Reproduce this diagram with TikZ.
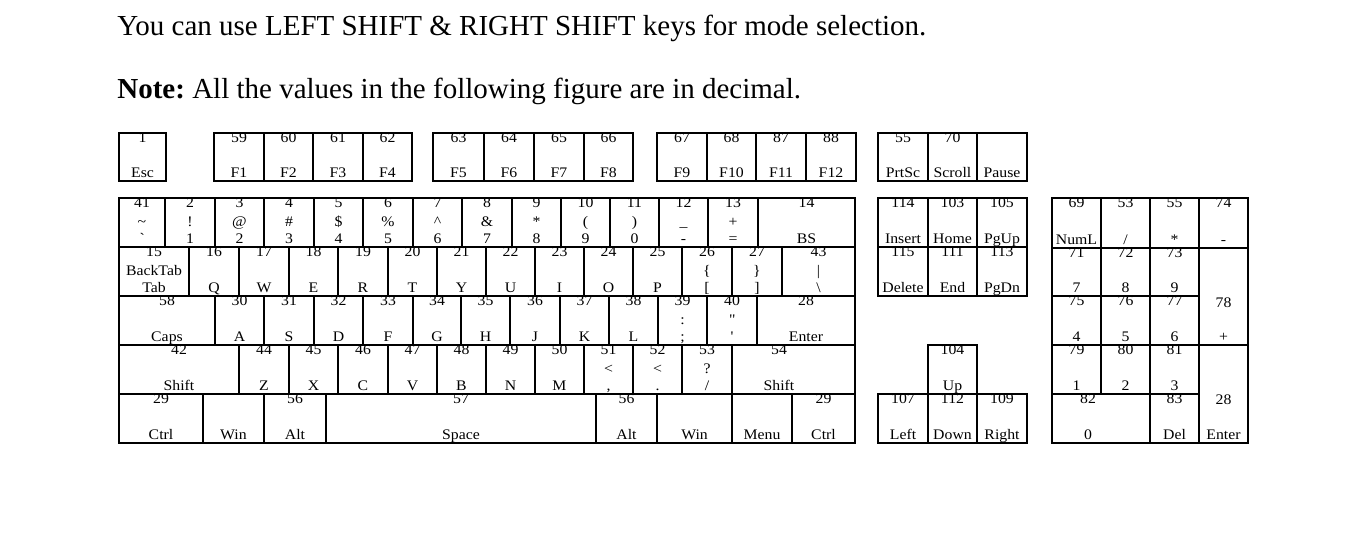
\documentclass[tikz,border=0pt]{standalone}
\usepackage{fontspec}
\setmainfont{Liberation Serif}
\newfontfamily\keyfont[FakeStretch=1.08]{Liberation Serif}
\frenchspacing

\tikzset{
  keybox/.style={draw, rectangle, inner sep=0pt, outer sep=0pt, line width=0.6pt},
  keylbl/.style={inner sep=0pt, anchor=base, font=\keyfont\fontsize{7.3}{8}\selectfont},
  notetext/.style={inner sep=0pt, anchor=base west, font=\fontsize{14.5}{17}\selectfont}
}

% name, left, top, right, bottom, code, upper char, lower label
\newcommand{\kbkey}[8]{%
  \node[keybox, minimum width={(#4-#2)*0.5pt}, minimum height={(#5-#3)*0.5pt}] (#1) at ({(#2+#4)/2},{(#3+#5)/2}) {};
  \node[keylbl] (#1n) at ({(#2+#4)/2},{#3+10}) {#6};
  \node[keylbl] (#1m) at ({(#2+#4)/2},{#3+29}) {#7};
  \node[keylbl] (#1b) at ({(#2+#4)/2},{#5-3.5}) {#8};
}

\begin{document}
\begin{tikzpicture}[x=0.5pt, y=-0.5pt]
            \useasboundingbox (0,0) rectangle (1371,539);
            \node[notetext] (lineA) at (117,36) {You can use LEFT SHIFT \& RIGHT SHIFT keys for mode selection.};
            \node[notetext] (lineB) at (117,99) {\textbf{Note:} All the values in the following figure are in decimal.};
            % function row
            \kbkey{esc}{119}{133}{166}{181}{1}{}{Esc}
            \kbkey{f1}{214}{133}{264}{181}{59}{}{F1}
            \kbkey{f2}{264}{133}{313}{181}{60}{}{F2}
            \kbkey{f3}{313}{133}{363}{181}{61}{}{F3}
            \kbkey{f4}{363}{133}{412}{181}{62}{}{F4}
            \kbkey{f5}{433}{133}{484}{181}{63}{}{F5}
            \kbkey{f6}{484}{133}{534}{181}{64}{}{F6}
            \kbkey{f7}{534}{133}{584}{181}{65}{}{F7}
            \kbkey{f8}{584}{133}{633}{181}{66}{}{F8}
            \kbkey{f9}{657}{133}{707}{181}{67}{}{F9}
            \kbkey{f10}{707}{133}{756}{181}{68}{}{F10}
            \kbkey{f11}{756}{133}{806}{181}{87}{}{F11}
            \kbkey{f12}{806}{133}{856}{181}{88}{}{F12}
            \kbkey{prtsc}{878}{133}{928}{181}{55}{}{PrtSc}
            \kbkey{scroll}{928}{133}{977}{181}{70}{}{Scroll}
            \kbkey{pause}{977}{133}{1027}{181}{}{}{Pause}
            % number row
            \kbkey{grave}{119}{198}{165}{247}{41}{\textasciitilde}{\textasciigrave}
            \kbkey{one}{165}{198}{215}{247}{2}{!}{1}
            \kbkey{two}{215}{198}{264}{247}{3}{@}{2}
            \kbkey{three}{264}{198}{314}{247}{4}{\#}{3}
            \kbkey{four}{314}{198}{363}{247}{5}{\$}{4}
            \kbkey{five}{363}{198}{413}{247}{6}{\%}{5}
            \kbkey{six}{413}{198}{462}{247}{7}{\textasciicircum}{6}
            \kbkey{seven}{462}{198}{512}{247}{8}{\&}{7}
            \kbkey{eight}{512}{198}{561}{247}{9}{*}{8}
            \kbkey{nine}{561}{198}{610}{247}{10}{(}{9}
            \kbkey{zero}{610}{198}{659}{247}{11}{)}{0}
            \kbkey{minus}{659}{198}{708}{247}{12}{\_}{-}
            \kbkey{equal}{708}{198}{758}{247}{13}{+}{=}
            \kbkey{bs}{758}{198}{855}{247}{14}{}{BS}
            % top letter row
            \kbkey{tab}{119}{247}{189}{296}{15}{BackTab}{Tab}
            \kbkey{q}{189}{247}{239}{296}{16}{}{Q}
            \kbkey{w}{239}{247}{289}{296}{17}{}{W}
            \kbkey{e}{289}{247}{338}{296}{18}{}{E}
            \kbkey{r}{338}{247}{388}{296}{19}{}{R}
            \kbkey{t}{388}{247}{437}{296}{20}{}{T}
            \kbkey{y}{437}{247}{486}{296}{21}{}{Y}
            \kbkey{u}{486}{247}{535}{296}{22}{}{U}
            \kbkey{i}{535}{247}{584}{296}{23}{}{I}
            \kbkey{o}{584}{247}{633}{296}{24}{}{O}
            \kbkey{p}{633}{247}{682}{296}{25}{}{P}
            \kbkey{lbrack}{682}{247}{732}{296}{26}{\{}{[}
            \kbkey{rbrack}{732}{247}{782}{296}{27}{\}}{]}
            \kbkey{bslash}{782}{247}{855}{296}{43}{|}{\textbackslash}
            % home row
            \kbkey{caps}{119}{296}{215}{345}{58}{}{Caps}
            \kbkey{a}{215}{296}{264}{345}{30}{}{A}
            \kbkey{s}{264}{296}{314}{345}{31}{}{S}
            \kbkey{d}{314}{296}{363}{345}{32}{}{D}
            \kbkey{f}{363}{296}{413}{345}{33}{}{F}
            \kbkey{g}{413}{296}{461}{345}{34}{}{G}
            \kbkey{h}{461}{296}{510}{345}{35}{}{H}
            \kbkey{j}{510}{296}{560}{345}{36}{}{J}
            \kbkey{k}{560}{296}{609}{345}{37}{}{K}
            \kbkey{l}{609}{296}{658}{345}{38}{}{L}
            \kbkey{semi}{658}{296}{707}{345}{39}{:}{;}
            \kbkey{quote}{707}{296}{757}{345}{40}{\textquotedbl}{\textquotesingle}
            \kbkey{enter}{757}{296}{855}{345}{28}{}{Enter}
            % bottom letter row
            \kbkey{lshift}{119}{345}{239}{394}{42}{}{Shift}
            \kbkey{z}{239}{345}{289}{394}{44}{}{Z}
            \kbkey{x}{289}{345}{338}{394}{45}{}{X}
            \kbkey{c}{338}{345}{388}{394}{46}{}{C}
            \kbkey{v}{388}{345}{437}{394}{47}{}{V}
            \kbkey{b}{437}{345}{486}{394}{48}{}{B}
            \kbkey{n}{486}{345}{535}{394}{49}{}{N}
            \kbkey{m}{535}{345}{584}{394}{50}{}{M}
            \kbkey{comma}{584}{345}{633}{394}{51}{<}{,}
            \kbkey{period}{633}{345}{682}{394}{52}{<}{.}
            \kbkey{slash}{682}{345}{732}{394}{53}{?}{/}
            \node[keybox, minimum width=61.5pt, minimum height=24.5pt] (rshift) at (793.5,369.5) {};
            \node[keylbl] (rshiftn) at (779,355) {54};
            \node[keylbl] (rshiftb) at (779,390.5) {Shift};
            % space row
            \kbkey{lctrl}{119}{394}{203}{443}{29}{}{Ctrl}
            \kbkey{lwin}{203}{394}{264}{443}{}{}{Win}
            \kbkey{lalt}{264}{394}{326}{443}{56}{}{Alt}
            \kbkey{space}{326}{394}{596}{443}{57}{}{Space}
            \kbkey{ralt}{596}{394}{657}{443}{56}{}{Alt}
            \kbkey{rwin}{657}{394}{732}{443}{}{}{Win}
            \kbkey{menu}{732}{394}{792}{443}{}{}{Menu}
            \kbkey{rctrl}{792}{394}{855}{443}{29}{}{Ctrl}
            % editing block and arrows
            \kbkey{ins}{878}{198}{928}{247}{114}{}{Insert}
            \kbkey{home}{928}{198}{977}{247}{103}{}{Home}
            \kbkey{pgup}{977}{198}{1027}{247}{105}{}{PgUp}
            \kbkey{del}{878}{247}{928}{296}{115}{}{Delete}
            \kbkey{end}{928}{247}{977}{296}{111}{}{End}
            \kbkey{pgdn}{977}{247}{1027}{296}{113}{}{PgDn}
            \kbkey{up}{928}{345}{977}{394}{104}{}{Up}
            \kbkey{left}{878}{394}{928}{443}{107}{}{Left}
            \kbkey{down}{928}{394}{977}{443}{112}{}{Down}
            \kbkey{right}{977}{394}{1027}{443}{109}{}{Right}
            % numeric pad
            \kbkey{numl}{1052}{198}{1101}{248}{69}{}{NumL}
            \kbkey{kpdiv}{1101}{198}{1150}{248}{53}{}{/}
            \kbkey{kpmul}{1150}{198}{1199}{248}{55}{}{*}
            \kbkey{kpsub}{1199}{198}{1248}{248}{74}{}{-}
            \kbkey{kpseven}{1052}{248}{1101}{296}{71}{}{7}
            \kbkey{kpeight}{1101}{248}{1150}{296}{72}{}{8}
            \kbkey{kpnine}{1150}{248}{1199}{296}{73}{}{9}
            \node[keybox, minimum width=24.5pt, minimum height=48.5pt] (kpadd) at (1223.5,296.5) {};
            \node[keylbl] (kpaddn) at (1223.5,308) {78};
            \node[keylbl] (kpaddb) at (1223.5,341.5) {+};
            \kbkey{kpfour}{1052}{296}{1101}{345}{75}{}{4}
            \kbkey{kpfive}{1101}{296}{1150}{345}{76}{}{5}
            \kbkey{kpsix}{1150}{296}{1199}{345}{77}{}{6}
            \kbkey{kpone}{1052}{345}{1101}{394}{79}{}{1}
            \kbkey{kptwo}{1101}{345}{1150}{394}{80}{}{2}
            \kbkey{kpthree}{1150}{345}{1199}{394}{81}{}{3}
            \node[keybox, minimum width=24.5pt, minimum height=49pt] (kpenter) at (1223.5,394) {};
            \node[keylbl] (kpentern) at (1223.5,405) {28};
            \node[keylbl] (kpenterb) at (1223.5,439.5) {Enter};
            \node[keybox, minimum width=49pt, minimum height=24.5pt] (kpzero) at (1101,418.5) {};
            \node[keylbl] (kpzeron) at (1088,404) {82};
            \node[keylbl] (kpzerob) at (1088,439.5) {0};
            \kbkey{kpdel}{1150}{394}{1199}{443}{83}{}{Del}
        \end{tikzpicture}
\end{document}
